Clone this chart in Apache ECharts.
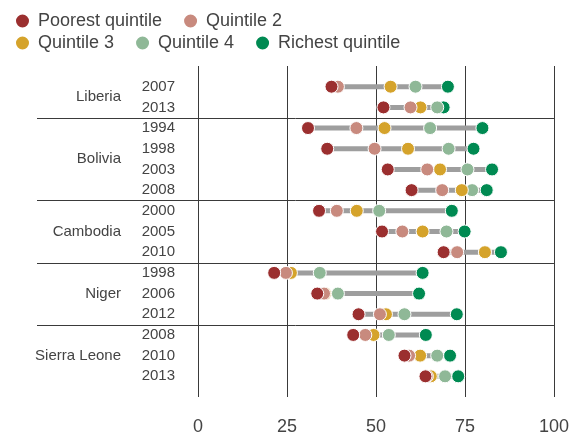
<!DOCTYPE html>
<html>
<head>
<meta charset="utf-8">
<script src="https://cdn.jsdelivr.net/npm/echarts@6/dist/echarts.min.js"></script>
<style>
  html, body { margin: 0; padding: 0; background: #fff; }
  #chart { width: 572px; height: 436px; }
</style>
</head>
<body>
<div id="chart"></div>
<script>
  // survey rows, top to bottom
  var years = ['2007', '2013', '1994', '1998', '2003', '2008', '2000', '2005', '2010', '1998', '2006', '2012', '2008', '2010', '2013']
  var countries = ['Liberia', 'Bolivia', 'Cambodia', 'Niger', 'Sierra Leone']
  var countryRows = [2, 4, 3, 3, 3]

  var poorest = [37.5, 52.1, 30.9, 36.3, 53.3, 60.0, 34.0, 51.7, 69.0, 21.4, 33.5, 45.1, 43.6, 58.0, 63.9]
  var quintile2 = [39.3, 59.7, 44.5, 49.6, 64.4, 68.6, 39.0, 57.4, 72.8, 24.7, 35.4, 51.1, 47.0, 59.3, 64.3]
  var quintile3 = [54.1, 62.5, 52.4, 59.0, 68.0, 74.1, 44.6, 63.1, 80.6, 26.1, 35.7, 52.8, 49.3, 62.4, 65.4]
  var quintile4 = [61.1, 67.2, 65.2, 70.4, 75.7, 77.0, 50.9, 69.8, 80.6, 34.2, 39.3, 58.0, 53.6, 67.2, 69.4]
  var richest = [70.2, 69.0, 79.9, 77.4, 82.6, 81.1, 71.3, 74.9, 85.1, 63.1, 62.1, 72.7, 64.0, 70.8, 73.1]

  var xTicks = [0, 25, 50, 75, 100]

  var font = "'Liberation Sans', Arial, sans-serif"
  var textColor = '#444'

  // country label sits in the middle of its rows, separators between groups
  var countryAt = {}
  var separators = []
  var start = 0
  for (var i = 0; i < countries.length; i++) {
    countryAt[(start + (countryRows[i] - 1) / 2).toFixed(1)] = countries[i]
    start += countryRows[i]
    if (i < countries.length - 1) separators.push(start - 0.5)
  }

  var ranges = years.map(function (y, i) {
    var vals = [poorest[i], quintile2[i], quintile3[i], quintile4[i], richest[i]]
    return [Math.min.apply(null, vals), Math.max.apply(null, vals), i]
  })

  function pts(arr) {
    return arr.map(function (v, i) { return [v, i] })
  }

  function dots(name, color, arr) {
    return {
      name: name,
      type: 'scatter',
      data: pts(arr),
      symbolSize: 13,
      itemStyle: { color: color, borderColor: '#fff', borderWidth: 1, opacity: 1 },
      emphasis: { disabled: true },
      animation: false
    }
  }

  var chart = echarts.init(document.getElementById('chart'))
  chart.setOption({
    textStyle: { fontFamily: font },
    animation: false,
    legend: [{
      left: 9,
      top: 7,
      icon: 'circle',
      itemWidth: 15,
      itemHeight: 15,
      itemGap: 20,
      textStyle: { fontSize: 18, color: textColor, fontFamily: font, padding: [0, 0, 0, 3] },
      data: ['Poorest quintile', 'Quintile 2']
    }, {
      left: 9,
      top: 29,
      icon: 'circle',
      itemWidth: 15,
      itemHeight: 15,
      itemGap: 20,
      textStyle: { fontSize: 18, color: textColor, fontFamily: font, padding: [0, 0, 0, 3] },
      data: ['Quintile 3', 'Quintile 4', 'Richest quintile']
    }],
    grid: { left: 198, right: 15, top: 66, bottom: 36 },
    xAxis: {
      type: 'value',
      min: xTicks[0],
      max: xTicks[xTicks.length - 1],
      interval: 25,
      axisLine: { show: false },
      axisTick: { show: false },
      axisLabel: { fontSize: 18, color: textColor, margin: 21, fontFamily: font },
      splitLine: { show: true, lineStyle: { color: '#3a3a3a', width: 1 } }
    },
    yAxis: [{
      type: 'value',
      inverse: true,
      min: -1,
      max: years.length,
      interval: 1,
      axisLine: { show: false },
      axisTick: { show: false },
      splitLine: { show: false },
      axisLabel: {
        fontSize: 15,
        color: textColor,
        margin: 23,
        fontFamily: font,
        formatter: function (v) { return years[Math.round(v)] || '' }
      }
    }, {
      type: 'value',
      inverse: true,
      position: 'left',
      offset: 0,
      min: -1,
      max: years.length,
      interval: 0.5,
      axisLine: { show: false },
      axisTick: { show: false },
      splitLine: { show: false },
      axisLabel: {
        fontSize: 15,
        color: textColor,
        margin: 77,
        fontFamily: font,
        formatter: function (v) { return countryAt[(Math.round(v * 2) / 2).toFixed(1)] || '' }
      }
    }],
    series: [{
      type: 'custom',
      data: ranges,
      silent: true,
      renderItem: function (params, api) {
        var a = api.coord([api.value(0), api.value(2)])
        var b = api.coord([api.value(1), api.value(2)])
        return {
          type: 'line',
          shape: { x1: a[0], y1: a[1], x2: b[0], y2: b[1] },
          style: { stroke: '#9e9e9e', lineWidth: 5 }
        }
      }
    },
      dots('Richest quintile', '#008a52', richest),
      dots('Quintile 4', '#8fb897', quintile4),
      dots('Quintile 3', '#d5a32b', quintile3),
      dots('Quintile 2', '#c88a7e', quintile2),
      dots('Poorest quintile', '#9b2f2f', poorest)
    ]
  })

  // group separators run from the label column to the right edge
  var xRight = chart.convertToPixel({ xAxisIndex: 0 }, xTicks[xTicks.length - 1])
  chart.setOption({
    graphic: separators.map(function (s) {
      var y = Math.round(chart.convertToPixel({ yAxisIndex: 0 }, s)) + 0.5
      return {
        type: 'line',
        silent: true,
        shape: { x1: 37, y1: y, x2: xRight, y2: y },
        style: { stroke: '#3a3a3a', lineWidth: 1 }
      }
    })
  })
</script>
</body>
</html>
